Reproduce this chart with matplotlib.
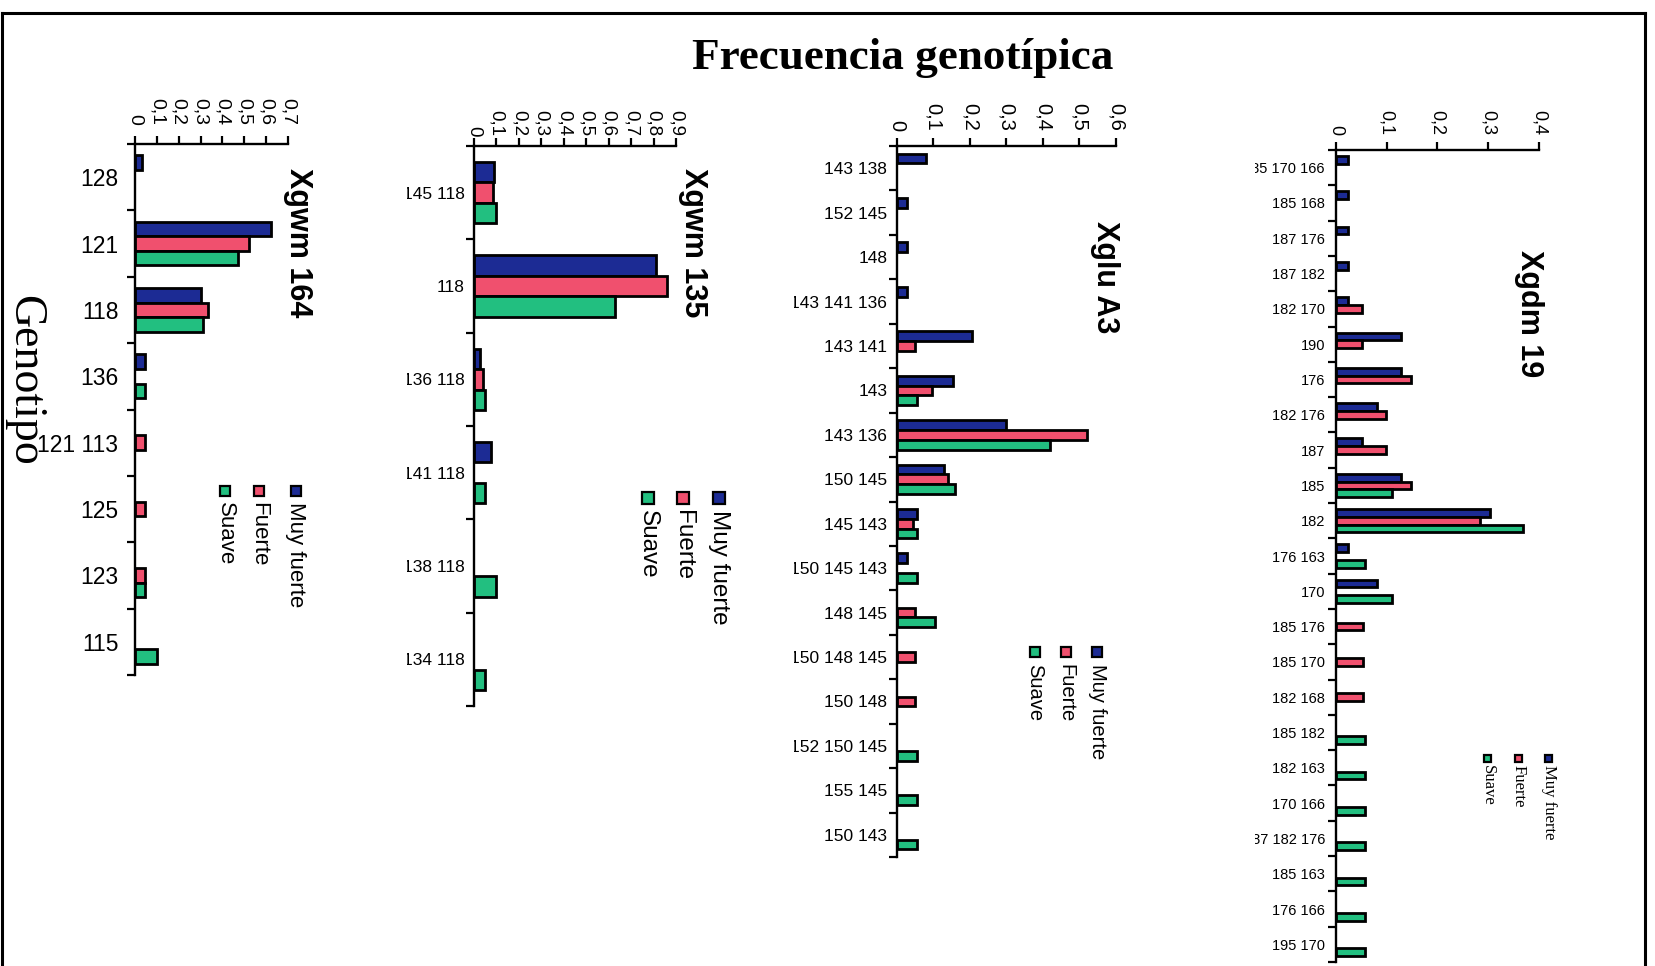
import matplotlib
matplotlib.use("Agg")
import matplotlib.pyplot as plt
from matplotlib.lines import Line2D
from matplotlib.patches import Rectangle
from matplotlib.transforms import Bbox, TransformedBbox

W, H = 1656, 966
SANS = "Liberation Sans"
SERIF = "Liberation Serif"

series = ["Muy fuerte", "Fuerte", "Suave"]
colors = ["#1c2b94", "#f0506e", "#22bf80"]

# Xgwm 164
gwm164_cats = ["128", "121", "118", "136", "121 113", "125", "123", "115"]
gwm164_muy = [0.03, 0.62, 0.30, 0.045, 0, 0, 0, 0]
gwm164_fuerte = [0, 0.52, 0.335, 0, 0.045, 0.045, 0.045, 0]
gwm164_suave = [0, 0.47, 0.31, 0.045, 0, 0, 0.045, 0.10]

# Xgwm 135
gwm135_cats = ["145 118", "118", "136 118", "141 118", "138 118", "134 118"]
gwm135_muy = [0.09, 0.81, 0.027, 0.076, 0, 0]
gwm135_fuerte = [0.085, 0.86, 0.04, 0, 0, 0]
gwm135_suave = [0.10, 0.63, 0.05, 0.05, 0.10, 0.05]

# Xglu A3
gluA3_cats = ["143 138", "152 145", "148", "143 141 136", "143 141", "143",
              "143 136", "150 145", "145 143", "150 145 143", "148 145",
              "150 148 145", "150 148", "152 150 145", "155 145", "150 143"]
gluA3_muy = [0.08, 0.027, 0.027, 0.027, 0.205, 0.153, 0.30, 0.13, 0.055,
             0.027, 0, 0, 0, 0, 0, 0]
gluA3_fuerte = [0, 0, 0, 0, 0.05, 0.095, 0.52, 0.14, 0.045, 0, 0.05, 0.05,
                0.05, 0, 0, 0]
gluA3_suave = [0, 0, 0, 0, 0, 0.054, 0.42, 0.16, 0.054, 0.054, 0.105, 0, 0,
               0.055, 0.055, 0.055]

# Xgdm 19
gdm19_cats = ["185 170 166", "185 168", "187 176", "187 182", "182 170", "190",
              "176", "182 176", "187", "185", "182", "176 163", "170",
              "185 176", "185 170", "182 168", "185 182", "182 163", "170 166",
              "187 182 176", "185 163", "176 166", "195 170"]
gdm19_muy = [0.024, 0.024, 0.024, 0.024, 0.024, 0.128, 0.128, 0.08, 0.052,
             0.128, 0.303, 0.024, 0.08, 0, 0, 0, 0, 0, 0, 0, 0, 0, 0]
gdm19_fuerte = [0, 0, 0, 0, 0.052, 0.052, 0.148, 0.098, 0.098, 0.148, 0.284,
                0, 0, 0.054, 0.054, 0.054, 0, 0, 0, 0, 0, 0, 0]
gdm19_suave = [0, 0, 0, 0, 0, 0, 0, 0, 0, 0.11, 0.369, 0.057, 0.11, 0, 0, 0,
               0.057, 0.057, 0.057, 0.057, 0.057, 0.057, 0.057]

panels = [
    dict(name="Xgwm 164", cats=gwm164_cats,
         vals=[gwm164_muy, gwm164_fuerte, gwm164_suave], vmax=0.7,
         box=(135, 144, 288, 675), cat_fs=16.5, cat_pad=12, val_fs=14, val_pad=8,
         clip=0, title_xy=(298, 243), title_fs=22,
         leg_x=(296, 259, 225), leg_y=491, leg_text_y=502, leg_fs=16,
         leg_sq=10, leg_font=SANS),
    dict(name="Xgwm 135", cats=gwm135_cats,
         vals=[gwm135_muy, gwm135_fuerte, gwm135_suave], vmax=0.9,
         box=(474, 146, 676, 706), cat_fs=12.5, cat_pad=6.5, val_fs=13.5, val_pad=1.5,
         clip=407.5, title_xy=(693, 243), title_fs=22,
         leg_x=(719, 683, 648), leg_y=498, leg_text_y=510, leg_fs=17.5,
         leg_sq=12, leg_font=SANS),
    dict(name="Xglu A3", cats=gluA3_cats,
         vals=[gluA3_muy, gluA3_fuerte, gluA3_suave], vmax=0.6,
         box=(897, 146, 1116, 857), cat_fs=12.5, cat_pad=7, val_fs=14.5, val_pad=5.5,
         clip=794.5, title_xy=(1105, 277), title_fs=22,
         leg_x=(1097, 1066, 1035), leg_y=652, leg_text_y=664, leg_fs=14.5,
         leg_sq=10, leg_font=SANS),
    dict(name="Xgdm 19", cats=gdm19_cats,
         vals=[gdm19_muy, gdm19_fuerte, gdm19_suave], vmax=0.4,
         box=(1336, 150, 1539, 962), cat_fs=10.5, cat_pad=8, val_fs=13, val_pad=5.5,
         clip=1255, title_xy=(1529, 314), title_fs=22,
         leg_x=(1549, 1519, 1488), leg_y=758, leg_text_y=765, leg_fs=12,
         leg_sq=7, leg_font=SERIF),
]


def px(x, y):
    return x / W, 1 - y / H


def fmt(v):
    return "0" if v == 0 else ("%.1f" % v).replace(".", ",")


fig = plt.figure(figsize=(W / 100, H / 100), dpi=100)
fig.patch.set_facecolor("white")

for p in panels:
    x0, y0, x1, y1 = p["box"]
    ax = fig.add_axes([x0 / W, 1 - y1 / H, (x1 - x0) / W, (y1 - y0) / H])
    n = len(p["cats"])
    centers = [i + 0.5 for i in range(n)]
    bh = 0.22
    for k, vals in enumerate(p["vals"]):
        ys = [c + (k - 1) * bh for c, v in zip(centers, vals) if v > 0]
        ws = [v for v in vals if v > 0]
        ax.barh(ys, ws, height=bh, color=colors[k], edgecolor="black",
                linewidth=2.0, zorder=3)
    ax.set_xlim(0, p["vmax"])
    ax.set_ylim(n, 0)
    for s in ("right", "bottom"):
        ax.spines[s].set_visible(False)
    for s in ("left", "top"):
        ax.spines[s].set_linewidth(1.7)
    ax.patch.set_alpha(0)

    ticks = [i / 10 for i in range(int(round(p["vmax"] * 10)) + 1)]
    ax.xaxis.tick_top()
    ax.set_xticks(ticks, [fmt(t) for t in ticks])
    ax.tick_params(axis="x", direction="out", length=5.5, width=1.6,
                   labelsize=p["val_fs"], pad=p["val_pad"], labelrotation=-90)

    ax.set_yticks(centers, p["cats"])
    ax.set_yticks(range(n + 1), minor=True)
    ax.tick_params(axis="y", which="major", length=0, labelsize=p["cat_fs"],
                   pad=p["cat_pad"])
    ax.tick_params(axis="y", which="minor", direction="out", length=6, width=1.6)
    clip_box = TransformedBbox(Bbox.from_extents(p["clip"] / W, 0, 1, 1),
                               fig.transFigure)
    for lab in ax.get_yticklabels():
        lab.set_fontfamily(SANS)
        lab.set_clip_on(True)
        lab.set_clip_box(clip_box)
    for tick in ax.xaxis.get_major_ticks():
        tick.label2.set_fontfamily(SANS)

    tx, ty = px(*p["title_xy"])
    fig.text(tx, ty, p["name"], rotation=-90, ha="center", va="center",
             fontsize=p["title_fs"], fontweight="bold", family=SANS)

    # legend laid out sideways: square on top, label running downwards
    sq = p["leg_sq"]
    for k, name in enumerate(series):
        lx = p["leg_x"][k]
        fig.add_artist(Rectangle(px(lx - sq / 2, p["leg_y"] + sq / 2), sq / W, sq / H,
                                 transform=fig.transFigure, facecolor=colors[k],
                                 edgecolor="black", linewidth=1.6))
        fx, fy = px(lx, p["leg_text_y"])
        fig.text(fx, fy, name, rotation=-90, ha="center", va="top",
                 fontsize=p["leg_fs"], family=p["leg_font"])

fx, fy = px(903, 69)
fig.text(fx, fy, "Frecuencia genotípica", ha="center", va="baseline",
         fontsize=32.5, fontweight="bold", family=SERIF)

fx, fy = px(24, 380)
fig.text(fx, fy, "Genotipo", rotation=-90, ha="center", va="center",
         fontsize=33, family=SERIF)

# outer frame
frame = dict(transform=fig.transFigure, color="black", linewidth=2.2)
fig.add_artist(Line2D([2 / W, 1645 / W], [1 - 13 / H, 1 - 13 / H], **frame))
fig.add_artist(Line2D([2 / W, 2 / W], [1 - 13 / H, 0], **frame))
fig.add_artist(Line2D([1645 / W, 1645 / W], [1 - 13 / H, 0], **frame))

fig.savefig("out.png", dpi=100, facecolor="white")
